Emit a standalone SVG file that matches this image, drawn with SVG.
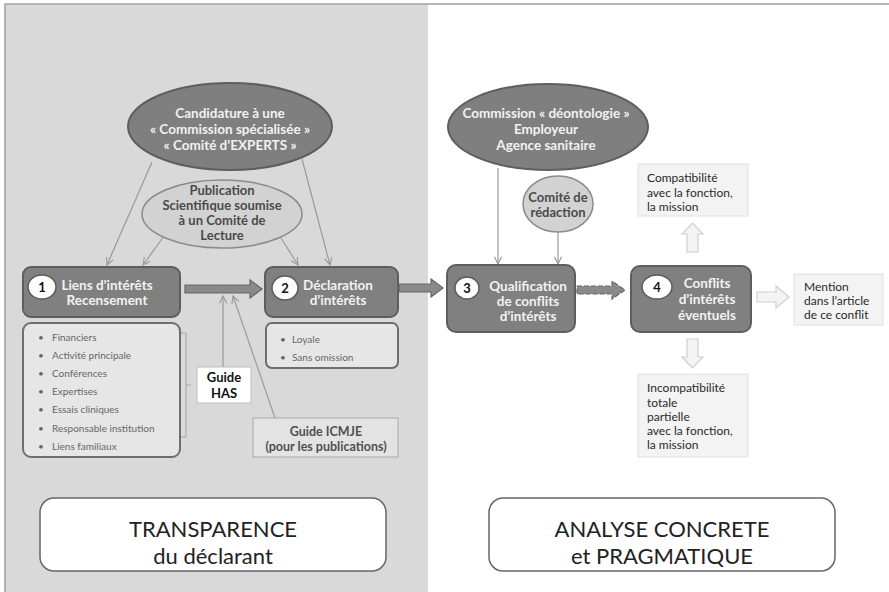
<svg xmlns="http://www.w3.org/2000/svg" width="889" height="592" viewBox="0 0 889 592">
<style>
text{font-family:Lato,"Open Sans","Liberation Sans",sans-serif}
.box{fill:#808080;stroke:#5e5e5e;stroke-width:2}
.num{fill:#fff;stroke:#5a5a5a;stroke-width:1.5}
.numt{font-size:13px;font-weight:bold;fill:#111;text-anchor:middle}
.wt{font-size:13.5px;font-weight:bold;fill:#f2f2f2;text-anchor:middle}
.list{fill:#e6e6e6;stroke:#6e6e6e;stroke-width:2}
.li{font-size:10px;fill:#666}
.dk{font-size:13px;font-weight:bold;fill:#4a4a4a;text-anchor:middle}
.ell{fill:#7f7f7f;stroke:#5e5e5e;stroke-width:2}
.ell2{fill:#d2d2d2;stroke:#8a8a8a;stroke-width:1.5}
.conn{stroke:#9a9a9a;stroke-width:1.2;fill:none}
.pale{fill:#f3f3f3;stroke:#e0e0e0;stroke-width:1}
.pt{font-size:12px;fill:#2a2a2a}
.hollow{fill:#f4f4f4;stroke:#cfcfcf;stroke-width:1.2}
.thick{fill:#8a8a8a;stroke:#666;stroke-width:1.2}
.big{font-size:22px;fill:#222;text-anchor:middle}
</style>
<defs>
<marker id="v" viewBox="0 0 10 10" refX="9" refY="5" markerWidth="9" markerHeight="9" orient="auto" markerUnits="userSpaceOnUse">
<path d="M1,1 L9,5 L1,9" fill="none" stroke="#9a9a9a" stroke-width="1.3"/>
</marker>
</defs>
<rect x="0" y="0" width="889" height="592" fill="#fff"/>
<rect x="5" y="4" width="423" height="590" fill="#d9d9d9"/>
<path d="M5,592 L5,4 L889,4" fill="none" stroke="#a0a0a0" stroke-width="1.5"/>

<g id="connectors">
<line class="conn" x1="152" y1="162" x2="107" y2="265" marker-end="url(#v)"/>
<line class="conn" x1="164" y1="236" x2="143" y2="265" marker-end="url(#v)"/>
<line class="conn" x1="281" y1="238" x2="298" y2="265" marker-end="url(#v)"/>
<line class="conn" x1="302" y1="159" x2="330" y2="265" marker-end="url(#v)"/>
<line class="conn" x1="223" y1="367" x2="223" y2="296" marker-end="url(#v)"/>
<line class="conn" x1="275" y1="418" x2="233" y2="296" marker-end="url(#v)"/>
<line class="conn" x1="498" y1="168" x2="498" y2="264" marker-end="url(#v)"/>
<line class="conn" x1="558" y1="232" x2="558" y2="264" marker-end="url(#v)"/>
<path d="M181,333 L186,333 L186,437 L181,437 M186,385 L191,385" fill="none" stroke="#a5a5a5" stroke-width="1"/>
<path class="thick" d="M185,285 L250,285 L250,280 L262,289 L250,298 L250,293 L185,293 Z"/>
<path class="thick" d="M399,284 L431,284 L431,279 L443,288 L431,297 L431,292 L399,292 Z"/>
<path class="thick" d="M577,286 L612,286 L612,281 L625,290 L612,299 L612,294 L577,294 Z" stroke-dasharray="5,2"/>
<path class="hollow" d="M687,252 L687,234 L682,234 L692.5,223 L703,234 L698,234 L698,252 Z"/>
<path class="hollow" d="M687,339 L698,339 L698,357 L703,357 L692.5,368 L682,357 L687,357 Z"/>
<path class="hollow" d="M757,292 L776,292 L776,286 L789,297 L776,308 L776,302 L757,302 Z"/>
</g>

<g id="candidature">
<ellipse class="ell" cx="230" cy="126.5" rx="102" ry="43.5"/>
<text class="wt" x="230" y="118" font-size="14">Candidature à une</text>
<text class="wt" x="230" y="134" font-size="14">« Commission spécialisée »</text>
<text class="wt" x="230" y="150" font-size="14">« Comité d’EXPERTS »</text>
</g>
<g id="publication">
<ellipse class="ell2" cx="222" cy="214" rx="80" ry="34"/>
<text class="dk" x="222" y="195">Publication</text>
<text class="dk" x="222" y="210">Scientifique soumise</text>
<text class="dk" x="222" y="225">à un Comité de</text>
<text class="dk" x="222" y="240">Lecture</text>
</g>

<g id="box1">
<rect class="box" x="23" y="267" width="157" height="50" rx="8"/>
<ellipse class="num" cx="42" cy="287" rx="14" ry="12"/>
<text class="numt" x="42" y="292">1</text>
<text class="wt" x="107" y="290">Liens d’intérêts</text>
<text class="wt" x="107" y="305">Recensement</text>
</g>
<g id="list1">
<rect class="list" x="23" y="323" width="157" height="134" rx="8"/>
<g class="li">
<text x="38" y="341">•</text><text x="52" y="341">Financiers</text>
<text x="38" y="359">•</text><text x="52" y="359">Activité principale</text>
<text x="38" y="377">•</text><text x="52" y="377">Conférences</text>
<text x="38" y="395">•</text><text x="52" y="395">Expertises</text>
<text x="38" y="413">•</text><text x="52" y="413">Essais cliniques</text>
<text x="38" y="432">•</text><text x="52" y="432">Responsable institution</text>
<text x="38" y="450">•</text><text x="52" y="450">Liens familiaux</text>
</g>
</g>

<g id="guideHAS">
<rect x="197" y="367" width="54" height="36" fill="#fff" stroke="#bdbdbd" stroke-width="1"/>
<text x="224" y="382" font-size="13" font-weight="bold" fill="#111" text-anchor="middle">Guide</text>
<text x="224" y="398" font-size="13" font-weight="bold" fill="#111" text-anchor="middle">HAS</text>
</g>
<g id="guideICMJE">
<rect x="253" y="418" width="145" height="39" fill="#e3e3e3" stroke="#a8a8a8" stroke-width="1"/>
<text x="326" y="436" font-size="12.5" font-weight="bold" fill="#505050" text-anchor="middle">Guide ICMJE</text>
<text x="326" y="451" font-size="12.5" font-weight="bold" fill="#505050" text-anchor="middle">(pour les publications)</text>
</g>

<g id="box2">
<rect class="box" x="265" y="267" width="133" height="50" rx="8"/>
<ellipse class="num" cx="285" cy="288" rx="13" ry="12"/>
<text class="numt" x="285" y="293">2</text>
<text class="wt" x="338" y="290">Déclaration</text>
<text class="wt" x="338" y="305">d’intérêts</text>
</g>
<g id="list2">
<rect class="list" x="266" y="323" width="132" height="45" rx="6"/>
<g class="li">
<text x="280" y="343">•</text><text x="292" y="343">Loyale</text>
<text x="280" y="361">•</text><text x="292" y="361">Sans omission</text>
</g>
</g>

<g id="commission">
<ellipse class="ell" cx="548" cy="127" rx="100" ry="43"/>
<text class="wt" x="546" y="118">Commission « déontologie »</text>
<text class="wt" x="546" y="134">Employeur</text>
<text class="wt" x="546" y="150">Agence sanitaire</text>
</g>
<g id="redaction">
<ellipse class="ell2" cx="558" cy="204" rx="35" ry="28"/>
<text class="dk" x="558" y="202" font-size="11.5">Comité de</text>
<text class="dk" x="558" y="217" font-size="11.5">rédaction</text>
</g>

<g id="box3">
<rect class="box" x="447" y="265" width="128" height="67" rx="9"/>
<ellipse class="num" cx="467" cy="288" rx="12" ry="11"/>
<text class="numt" x="467" y="293">3</text>
<text class="wt" x="528" y="291">Qualification</text>
<text class="wt" x="528" y="306">de conflits</text>
<text class="wt" x="528" y="321">d’intérêts</text>
</g>
<g id="box4">
<rect class="box" x="631" y="266" width="120" height="66" rx="9"/>
<ellipse class="num" cx="657" cy="287" rx="15" ry="12"/>
<text class="numt" x="657" y="292">4</text>
<text class="wt" x="707" y="288">Conflits</text>
<text class="wt" x="707" y="304">d’intérêts</text>
<text class="wt" x="707" y="320">éventuels</text>
</g>

<g id="compat">
<rect class="pale" x="638" y="164" width="110" height="52"/>
<text class="pt" x="647" y="182">Compatibilité</text>
<text class="pt" x="647" y="197">avec la fonction,</text>
<text class="pt" x="647" y="211">la mission</text>
</g>
<g id="mention">
<rect class="pale" x="794" y="274" width="89" height="51"/>
<text class="pt" x="804" y="291">Mention</text>
<text class="pt" x="804" y="305">dans l’article</text>
<text class="pt" x="804" y="319">de ce conflit</text>
</g>
<g id="incompat">
<rect class="pale" x="638" y="374" width="110" height="83"/>
<text class="pt" x="647" y="392">Incompatibilité</text>
<text class="pt" x="647" y="407">totale</text>
<text class="pt" x="647" y="421">partielle</text>
<text class="pt" x="647" y="435">avec la fonction,</text>
<text class="pt" x="647" y="449">la mission</text>
</g>

<g id="transparence">
<rect x="40" y="498" width="346" height="73" rx="14" fill="#fff" stroke="#666" stroke-width="1.5"/>
<text class="big" x="213" y="537">TRANSPARENCE</text>
<text class="big" x="213" y="564">du déclarant</text>
</g>
<g id="analyse">
<rect x="489" y="498" width="346" height="73" rx="14" fill="#fff" stroke="#666" stroke-width="1.5"/>
<text class="big" x="662" y="537">ANALYSE CONCRETE</text>
<text class="big" x="662" y="564">et PRAGMATIQUE</text>
</g>
</svg>
